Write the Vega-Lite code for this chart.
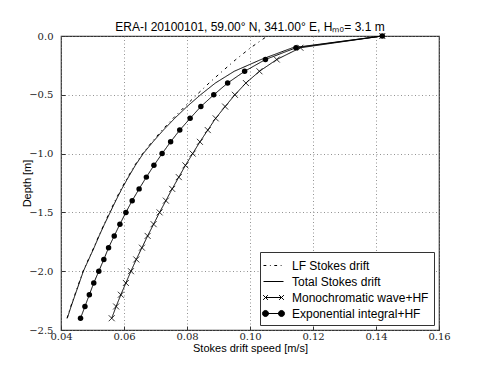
{
  "$schema": "https://vega.github.io/schema/vega-lite/v6.json",
  "width": 378,
  "height": 294,
  "autosize": {"type": "none"},
  "padding": {"left": 61, "top": 36, "right": 49, "bottom": 38},
  "background": "white",
  "title": {
    "text": "ERA-I 20100101, 59.00° N, 341.00° E, Hₘ₀= 3.1 m",
    "font": "Liberation Sans",
    "fontSize": 12,
    "fontWeight": "normal",
    "color": "black",
    "anchor": "middle",
    "frame": "group",
    "offset": -3
  },
  "config": {
    "view": {"stroke": "#333", "strokeWidth": 1.2},
    "axis": {
      "domain": false,
      "grid": true,
      "gridColor": "#777",
      "gridDash": [1, 2.5],
      "gridWidth": 0.8,
      "ticks": true,
      "tickSize": -4,
      "tickColor": "#333",
      "labelFont": "DejaVu Serif",
      "labelFontSize": 10,
      "labelColor": "#222",
      "titleFont": "Liberation Sans",
      "titleFontSize": 11,
      "titleFontWeight": "normal",
      "titleColor": "black"
    }
  },
  "data": {
    "values": [
      {"series": "LF Stokes drift", "depth": 0.0, "speed": 0.1055},
      {"series": "LF Stokes drift", "depth": -0.1, "speed": 0.1002},
      {"series": "LF Stokes drift", "depth": -0.2, "speed": 0.0955},
      {"series": "LF Stokes drift", "depth": -0.3, "speed": 0.0912},
      {"series": "LF Stokes drift", "depth": -0.4, "speed": 0.0870},
      {"series": "LF Stokes drift", "depth": -0.5, "speed": 0.0831},
      {"series": "LF Stokes drift", "depth": -0.6, "speed": 0.0793},
      {"series": "LF Stokes drift", "depth": -0.7, "speed": 0.0756},
      {"series": "LF Stokes drift", "depth": -0.8, "speed": 0.0721},
      {"series": "LF Stokes drift", "depth": -0.9, "speed": 0.0689},
      {"series": "LF Stokes drift", "depth": -1.0, "speed": 0.0659},
      {"series": "LF Stokes drift", "depth": -1.1, "speed": 0.0634},
      {"series": "LF Stokes drift", "depth": -1.2, "speed": 0.0612},
      {"series": "LF Stokes drift", "depth": -1.3, "speed": 0.0591},
      {"series": "LF Stokes drift", "depth": -1.4, "speed": 0.0572},
      {"series": "LF Stokes drift", "depth": -1.5, "speed": 0.0554},
      {"series": "LF Stokes drift", "depth": -1.6, "speed": 0.0537},
      {"series": "LF Stokes drift", "depth": -1.7, "speed": 0.0520},
      {"series": "LF Stokes drift", "depth": -1.8, "speed": 0.0504},
      {"series": "LF Stokes drift", "depth": -1.9, "speed": 0.0487},
      {"series": "LF Stokes drift", "depth": -2.0, "speed": 0.0470},
      {"series": "LF Stokes drift", "depth": -2.1, "speed": 0.0457},
      {"series": "LF Stokes drift", "depth": -2.2, "speed": 0.0444},
      {"series": "LF Stokes drift", "depth": -2.3, "speed": 0.0431},
      {"series": "LF Stokes drift", "depth": -2.4, "speed": 0.0419},
      {"series": "Total Stokes drift", "depth": 0.0, "speed": 0.1420},
      {"series": "Total Stokes drift", "depth": -0.1, "speed": 0.1135},
      {"series": "Total Stokes drift", "depth": -0.2, "speed": 0.1035},
      {"series": "Total Stokes drift", "depth": -0.3, "speed": 0.0950},
      {"series": "Total Stokes drift", "depth": -0.4, "speed": 0.0890},
      {"series": "Total Stokes drift", "depth": -0.5, "speed": 0.0843},
      {"series": "Total Stokes drift", "depth": -0.6, "speed": 0.0800},
      {"series": "Total Stokes drift", "depth": -0.7, "speed": 0.0761},
      {"series": "Total Stokes drift", "depth": -0.8, "speed": 0.0725},
      {"series": "Total Stokes drift", "depth": -0.9, "speed": 0.0692},
      {"series": "Total Stokes drift", "depth": -1.0, "speed": 0.0661},
      {"series": "Total Stokes drift", "depth": -1.1, "speed": 0.0636},
      {"series": "Total Stokes drift", "depth": -1.2, "speed": 0.0614},
      {"series": "Total Stokes drift", "depth": -1.3, "speed": 0.0593},
      {"series": "Total Stokes drift", "depth": -1.4, "speed": 0.0574},
      {"series": "Total Stokes drift", "depth": -1.5, "speed": 0.0556},
      {"series": "Total Stokes drift", "depth": -1.6, "speed": 0.0538},
      {"series": "Total Stokes drift", "depth": -1.7, "speed": 0.0521},
      {"series": "Total Stokes drift", "depth": -1.8, "speed": 0.0505},
      {"series": "Total Stokes drift", "depth": -1.9, "speed": 0.0488},
      {"series": "Total Stokes drift", "depth": -2.0, "speed": 0.0471},
      {"series": "Total Stokes drift", "depth": -2.1, "speed": 0.0458},
      {"series": "Total Stokes drift", "depth": -2.2, "speed": 0.0445},
      {"series": "Total Stokes drift", "depth": -2.3, "speed": 0.0432},
      {"series": "Total Stokes drift", "depth": -2.4, "speed": 0.0420},
      {"series": "Monochromatic wave+HF", "depth": 0.0, "speed": 0.1420},
      {"series": "Monochromatic wave+HF", "depth": -0.1, "speed": 0.1160},
      {"series": "Monochromatic wave+HF", "depth": -0.2, "speed": 0.1085},
      {"series": "Monochromatic wave+HF", "depth": -0.3, "speed": 0.1030},
      {"series": "Monochromatic wave+HF", "depth": -0.4, "speed": 0.0987},
      {"series": "Monochromatic wave+HF", "depth": -0.5, "speed": 0.0952},
      {"series": "Monochromatic wave+HF", "depth": -0.6, "speed": 0.0921},
      {"series": "Monochromatic wave+HF", "depth": -0.7, "speed": 0.0891},
      {"series": "Monochromatic wave+HF", "depth": -0.8, "speed": 0.0866},
      {"series": "Monochromatic wave+HF", "depth": -0.9, "speed": 0.0841},
      {"series": "Monochromatic wave+HF", "depth": -1.0, "speed": 0.0818},
      {"series": "Monochromatic wave+HF", "depth": -1.1, "speed": 0.0795},
      {"series": "Monochromatic wave+HF", "depth": -1.2, "speed": 0.0774},
      {"series": "Monochromatic wave+HF", "depth": -1.3, "speed": 0.0753},
      {"series": "Monochromatic wave+HF", "depth": -1.4, "speed": 0.0733},
      {"series": "Monochromatic wave+HF", "depth": -1.5, "speed": 0.0713},
      {"series": "Monochromatic wave+HF", "depth": -1.6, "speed": 0.0694},
      {"series": "Monochromatic wave+HF", "depth": -1.7, "speed": 0.0675},
      {"series": "Monochromatic wave+HF", "depth": -1.8, "speed": 0.0657},
      {"series": "Monochromatic wave+HF", "depth": -1.9, "speed": 0.0639},
      {"series": "Monochromatic wave+HF", "depth": -2.0, "speed": 0.0622},
      {"series": "Monochromatic wave+HF", "depth": -2.1, "speed": 0.0606},
      {"series": "Monochromatic wave+HF", "depth": -2.2, "speed": 0.0590},
      {"series": "Monochromatic wave+HF", "depth": -2.3, "speed": 0.0575},
      {"series": "Monochromatic wave+HF", "depth": -2.4, "speed": 0.0561},
      {"series": "Exponential integral+HF", "depth": 0.0, "speed": 0.1420},
      {"series": "Exponential integral+HF", "depth": -0.1, "speed": 0.1146},
      {"series": "Exponential integral+HF", "depth": -0.2, "speed": 0.1049},
      {"series": "Exponential integral+HF", "depth": -0.3, "speed": 0.0983},
      {"series": "Exponential integral+HF", "depth": -0.4, "speed": 0.0929},
      {"series": "Exponential integral+HF", "depth": -0.5, "speed": 0.0885},
      {"series": "Exponential integral+HF", "depth": -0.6, "speed": 0.0844},
      {"series": "Exponential integral+HF", "depth": -0.7, "speed": 0.0810},
      {"series": "Exponential integral+HF", "depth": -0.8, "speed": 0.0777},
      {"series": "Exponential integral+HF", "depth": -0.9, "speed": 0.0748},
      {"series": "Exponential integral+HF", "depth": -1.0, "speed": 0.0721},
      {"series": "Exponential integral+HF", "depth": -1.1, "speed": 0.0695},
      {"series": "Exponential integral+HF", "depth": -1.2, "speed": 0.0671},
      {"series": "Exponential integral+HF", "depth": -1.3, "speed": 0.0648},
      {"series": "Exponential integral+HF", "depth": -1.4, "speed": 0.0626},
      {"series": "Exponential integral+HF", "depth": -1.5, "speed": 0.0606},
      {"series": "Exponential integral+HF", "depth": -1.6, "speed": 0.0587},
      {"series": "Exponential integral+HF", "depth": -1.7, "speed": 0.0569},
      {"series": "Exponential integral+HF", "depth": -1.8, "speed": 0.0551},
      {"series": "Exponential integral+HF", "depth": -1.9, "speed": 0.0536},
      {"series": "Exponential integral+HF", "depth": -2.0, "speed": 0.0520},
      {"series": "Exponential integral+HF", "depth": -2.1, "speed": 0.0504},
      {"series": "Exponential integral+HF", "depth": -2.2, "speed": 0.0490},
      {"series": "Exponential integral+HF", "depth": -2.3, "speed": 0.0476},
      {"series": "Exponential integral+HF", "depth": -2.4, "speed": 0.0462}
    ]
  },
  "encoding": {
    "x": {
      "field": "speed", "type": "quantitative",
      "scale": {"domain": [0.04, 0.16], "nice": false, "zero": false},
      "axis": {"title": "Stokes drift speed [m/s]", "values": [0.04, 0.06, 0.08, 0.10, 0.12, 0.14, 0.16], "format": ".2f", "labelPadding": 5, "titlePadding": 1, "labelFlush": false, "labelFont": "DejaVu Serif"}
    },
    "y": {
      "field": "depth", "type": "quantitative",
      "scale": {"domain": [-2.5, 0], "nice": false, "zero": false},
      "axis": {"title": "Depth [m]", "values": [0, -0.5, -1.0, -1.5, -2.0, -2.5], "format": ".1f", "labelExpr": "replace(datum.label, '-', '−')", "labelPadding": 12, "titlePadding": -4, "labelFlush": false, "labelFont": "DejaVu Serif"}
    }
  },
  "layer": [
    {
      "mark": {"type": "line", "color": "black", "strokeWidth": 1},
      "encoding": {
        "detail": {"field": "series"},
        "order": {"field": "depth", "type": "quantitative"},
        "strokeDash": {
          "condition": {"test": "datum.series == 'LF Stokes drift'", "value": [3, 4, 1, 4]},
          "value": [1, 0]
        }
      }
    },
    {
      "transform": [{"filter": "datum.series == 'Monochromatic wave+HF'"}],
      "mark": {"type": "point", "shape": "M-1,-1L1,1M-1,1L1,-1", "filled": false, "stroke": "black", "strokeWidth": 0.8, "size": 36, "opacity": 1}
    },
    {
      "transform": [{"filter": "datum.series == 'Exponential integral+HF'"}],
      "mark": {"type": "point", "shape": "circle", "filled": true, "color": "black", "size": 30, "opacity": 1}
    },
    {
      "mark": {"type": "point", "filled": false, "fill": "black", "stroke": "black", "strokeWidth": 1, "opacity": 0},
      "encoding": {
        "shape": {
          "field": "series", "type": "nominal",
          "scale": {
            "domain": ["LF Stokes drift", "Total Stokes drift", "Monochromatic wave+HF", "Exponential integral+HF"],
            "range": [
              "M-1.25,0L-0.9,0M-0.45,0L-0.35,0M0.1,0L0.45,0M0.9,0L1.0,0",
              "M-1.25,0L1.25,0",
              "M-1.0,0L1.0,0M-1.3,-0.3L-0.7,0.3M-1.3,0.3L-0.7,-0.3M0.7,-0.3L1.3,0.3M0.7,0.3L1.3,-0.3",
              "M-1,0L1,0M-0.62,0A0.38,0.38,0,1,1,-1.38,0A0.38,0.38,0,1,1,-0.62,0ZM1.38,0A0.38,0.38,0,1,1,0.62,0A0.38,0.38,0,1,1,1.38,0Z"
            ]
          },
          "legend": {
            "title": null,
            "orient": "bottom-right",
            "offset": 5,
            "padding": 5,
            "strokeColor": "#333",
            "fillColor": "white",
            "cornerRadius": 0,
            "symbolSize": 256,
            "symbolStrokeWidth": 1,
            "symbolOpacity": 1,
            "labelFont": "Liberation Sans",
            "labelFontSize": 12,
            "labelColor": "black",
            "labelOffset": 10,
            "rowPadding": 1,
            "labelLimit": 300
          }
        }
      }
    }
  ]
}
